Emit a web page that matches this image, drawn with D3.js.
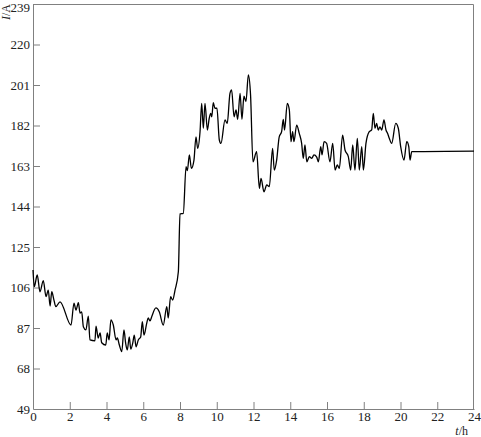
<!DOCTYPE html>
<meta charset="utf-8">
<script src="https://d3js.org/d3.v7.min.js"></script>
<style>
  body { margin: 0; background: #fff; }
  text { font-family: "Liberation Serif", "DejaVu Serif", serif; }
</style>
<div id="chart"></div>
<script>
  // hours and current readings
  const hours = [0, 0.07, 0.23, 0.38, 0.56, 0.71, 0.83, 0.93, 1.02, 1.14, 1.24, 1.47, 2.07, 2.23, 2.34, 2.47, 2.56, 2.65, 2.74, 2.88,
    3.01, 3.10, 3.37, 3.43, 3.55, 3.65, 3.74, 3.96, 4.04, 4.14, 4.24, 4.37, 4.52, 4.59, 4.70, 4.83, 4.95, 5.04, 5.13, 5.24,
    5.32, 5.43, 5.51, 5.61, 5.73, 5.86, 5.95, 6.04, 6.19, 6.27, 6.37, 6.46, 6.69, 6.87, 7.09, 7.28, 7.36, 7.49, 7.60, 7.73,
    7.91, 8.0, 8.18, 8.33, 8.40, 8.51, 8.62, 8.76, 8.87, 8.96, 9.09, 9.18, 9.27, 9.36, 9.49, 9.59, 9.67, 9.73, 9.81, 9.90,
    10.01, 10.14, 10.23, 10.45, 10.57, 10.72, 10.81, 10.94, 11.05, 11.14, 11.27, 11.37, 11.48, 11.59, 11.72, 11.84, 11.97, 12.17, 12.32, 12.41,
    12.57, 12.72, 12.86, 13.04, 13.13, 13.26, 13.40, 13.53, 13.62, 13.69, 13.84, 13.95, 14.04, 14.13, 14.20, 14.35, 14.49, 14.62, 14.71, 14.80,
    14.90, 15.04, 15.17, 15.29, 15.44, 15.53, 15.66, 15.73, 15.84, 15.98, 16.16, 16.31, 16.44, 16.56, 16.67, 16.85, 16.98, 17.16, 17.29, 17.40,
    17.52, 17.65, 17.76, 17.89, 17.98, 18.12, 18.30, 18.43, 18.52, 18.61, 18.70, 18.79, 18.88, 18.98, 19.10, 19.21, 19.30, 19.39, 19.52, 19.74,
    19.88, 20.01, 20.19, 20.34, 20.45, 20.52, 20.61, 24];
  const current = [114.2, 106.4, 111.9, 104.0, 109.2, 101.7, 104.8, 97.3, 104.0, 100.1, 97.0, 99.3, 88.4, 98.7, 95.4, 98.9, 94.0, 94.6, 87.6, 86.1,
    92.6, 81.4, 81.0, 87.9, 82.3, 84.7, 80.1, 79.0, 84.7, 81.4, 90.8, 88.4, 81.4, 82.3, 79.0, 75.9, 86.1, 80.0, 76.7, 82.8,
    77.1, 80.0, 83.7, 78.2, 81.4, 82.8, 90.0, 83.7, 89.3, 91.7, 90.3, 92.3, 96.4, 94.6, 88.4, 97.0, 91.7, 101.7, 100.1, 104.8,
    113.4, 140.5, 140.8, 162.7, 160.8, 168.2, 161.9, 165.8, 176.7, 171.3, 179.1, 192.4, 180.7, 192.4, 179.9, 185.4, 187.7, 186.1, 192.7, 190.1,
    190.1, 175.2, 173.6, 184.6, 183.0, 197.1, 198.7, 186.1, 189.3, 184.9, 197.1, 184.9, 195.8, 193.2, 205.7, 196.3, 165.0, 169.7, 152.5, 157.2,
    150.9, 154.1, 153.3, 171.3, 161.1, 165.8, 176.7, 179.1, 184.9, 179.9, 192.4, 189.3, 174.4, 179.1, 174.4, 182.2, 178.3, 173.6, 166.6, 172.9,
    165.0, 167.4, 166.6, 168.2, 167.2, 165.0, 172.1, 168.2, 174.4, 173.6, 165.0, 173.6, 161.1, 163.5, 161.9, 177.5, 170.5, 167.4, 161.1, 172.9,
    161.1, 176.0, 161.1, 172.1, 161.1, 173.6, 179.1, 179.9, 187.7, 180.7, 183.0, 179.9, 181.3, 179.9, 184.6, 179.9, 178.3, 176.0, 173.6, 183.0,
    180.7, 172.1, 165.8, 174.4, 172.1, 165.8, 169.7, 170.0];
  const xTicks = [0, 2, 4, 6, 8, 10, 12, 14, 16, 18, 20, 22, 24];
  const yTicks = [49, 68, 87, 106, 125, 144, 163, 182, 201, 220, 239];

  const data = hours.map((h, i) => ({ t: h, v: current[i] }));

  const W = 481, H = 437;
  const margin = { top: 4, right: 7, bottom: 28, left: 33 },
    width = W - margin.left - margin.right,
    height = H - margin.top - margin.bottom;

  const svg = d3.select("#chart").append("svg")
    .attr("width", W).attr("height", H)
    .append("g")
    .attr("transform", `translate(${margin.left},${margin.top})`);

  const x = d3.scaleLinear().domain([0, 24]).range([0, width]);
  const y = d3.scaleLinear().domain([49, 239]).range([height, 0]);

  const axisColor = "#808080";

  // frame on top and right
  svg.append("path")
    .attr("d", `M0,0.5H${width - 0.5}V${height}`)
    .attr("fill", "none").attr("stroke", axisColor).attr("stroke-width", 1);

  const gx = svg.append("g")
    .attr("transform", `translate(0,${height})`)
    .call(d3.axisBottom(x).tickValues(xTicks).tickSize(-7).tickSizeOuter(0).tickPadding(3));
  const gy = svg.append("g")
    .call(d3.axisLeft(y).tickValues(yTicks).tickSize(-7).tickSizeOuter(0).tickPadding(3));

  [gx, gy].forEach(g => {
    g.select(".domain").attr("stroke", axisColor);
    g.selectAll(".tick line").attr("stroke", axisColor);
    g.selectAll(".tick text").attr("fill", "#222").style("font-size", "13px")
      .style("font-family", "'Liberation Serif', serif");
  });
  // end ticks are hidden in the reference
  gx.selectAll(".tick line").filter(d => d === 0 || d === 24).remove();
  gy.selectAll(".tick line").filter(d => d === 49 || d === 239).remove();
  // keep the top label inside the page
  gy.selectAll(".tick text").filter(d => d === 239).attr("dy", "0.55em");

  svg.append("path")
    .datum(data)
    .attr("fill", "none")
    .attr("stroke", "#000")
    .attr("stroke-width", 1.3)
    .attr("d", d3.line().x(d => x(d.t)).y(d => y(d.v)).curve(d3.curveMonotoneX));

  // axis titles
  const yt = svg.append("text")
    .attr("transform", "translate(-23,0) rotate(-90)")
    .attr("text-anchor", "end")
    .style("font-size", "12px").attr("fill", "#222");
  yt.append("tspan").style("font-style", "italic").text("I");
  yt.append("tspan").text("/A");

  const xt = svg.append("text")
    .attr("x", width - 6).attr("y", height + 26)
    .attr("text-anchor", "end")
    .style("font-size", "12px").attr("fill", "#222");
  xt.append("tspan").style("font-style", "italic").text("t");
  xt.append("tspan").text("/h");
</script>
